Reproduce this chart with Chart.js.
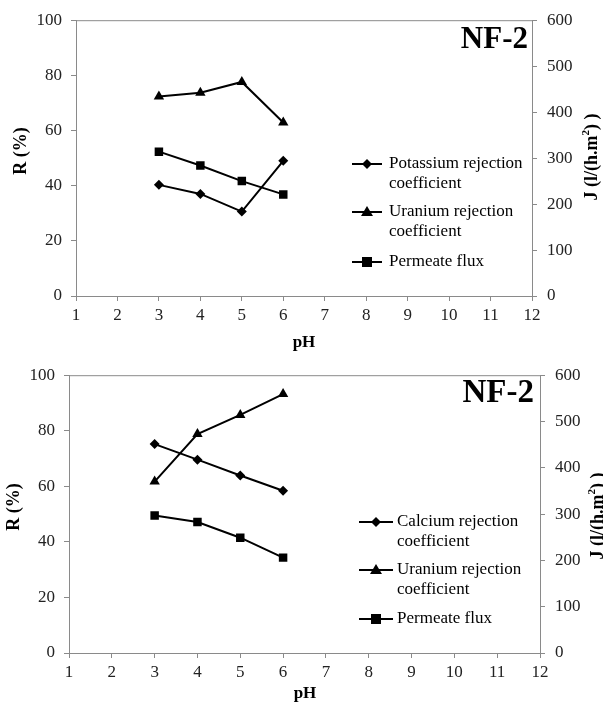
<!DOCTYPE html>
<html>
<head>
<meta charset="utf-8">
<script src="https://cdn.jsdelivr.net/npm/chart.js@4.4.1/dist/chart.umd.min.js"></script>
<style>
  body { margin:0; background:#fff; }
  canvas { display:block; }
</style>
</head>
<body>
<canvas id="topChart" width="603" height="355"></canvas>
<canvas id="bottomChart" width="603" height="355"></canvas>
<script>
// pH values measured
const phValues = [3, 4, 5, 6];

// top panel (potassium)
const potassiumRejection = [40.3, 37.0, 30.6, 49.0];
const uraniumRejectionTop = [72.3, 73.7, 77.6, 62.9];
const fluxTop = [314, 284, 250, 221];

// bottom panel (calcium)
const calciumRejection = [75.2, 69.6, 63.9, 58.4];
const uraniumRejectionBottom = [61.7, 78.8, 85.7, 93.2];
const fluxBottom = [297, 283, 249, 206];

// axes
const phRange = [1, 12];
const rRange = [0, 100];
const jRange = [0, 600];

const serif = "'Liberation Serif', 'Times New Roman', serif";
const axisGray = "#8a8a8a";

function pts(ys){
  return phValues.map((x,i)=>({x, y:ys[i]}));
}

function ds(label, ys, style, axis){
  return {
    label, data: pts(ys), yAxisID: axis,
    borderColor:"#000", backgroundColor:"#000", borderWidth:2,
    pointStyle:style, pointRadius: style==="rectRot" ? 5 : 6,
    pointBorderWidth:0, tension:0
  };
}

// draws frame top, titles, NF-2 label and the legend
const overlay = {
  id:"overlay",
  afterDraw(chart){
    const o = chart.options.plugins.overlay;
    const ctx = chart.ctx, a = chart.chartArea;
    ctx.save();
    // top border of the plot area
    ctx.strokeStyle = axisGray; ctx.lineWidth = 1;
    ctx.beginPath(); ctx.moveTo(a.left, a.top+0.5); ctx.lineTo(a.right, a.top+0.5); ctx.stroke();

    ctx.fillStyle = "#000";
    // NF-2
    ctx.font = "bold " + o.nfSize + "px " + serif;
    ctx.textAlign = "right"; ctx.textBaseline = "alphabetic";
    ctx.fillText("NF-2", o.nfX, o.nfY);

    // x title
    ctx.font = "bold 17px " + serif;
    ctx.textAlign = "center"; ctx.textBaseline = "middle";
    ctx.fillText("pH", o.phX, o.phY);

    // left title
    ctx.save();
    ctx.font = "bold 18px " + serif;
    ctx.translate(o.rX, o.rY); ctx.rotate(-Math.PI/2);
    ctx.fillText("R (%)", 0, 0);
    ctx.restore();

    // right title with superscript
    ctx.save();
    ctx.translate(o.jX, o.jY); ctx.rotate(-Math.PI/2);
    const big = "bold 18px " + serif, small = "bold 11px " + serif;
    const p1 = "J (l/(h.m", p2 = "2", p3 = ") )";
    ctx.font = big;
    const w1 = ctx.measureText(p1).width, w3 = ctx.measureText(p3).width;
    ctx.font = small;
    const w2 = ctx.measureText(p2).width;
    let x = -(w1+w2+w3)/2;
    ctx.textAlign = "left";
    ctx.font = big; ctx.fillText(p1, x, 0); x += w1;
    ctx.font = small; ctx.fillText(p2, x, -6); x += w2;
    ctx.font = big; ctx.fillText(p3, x, 0);
    ctx.restore();

    // legend
    ctx.font = "17px " + serif;
    ctx.textAlign = "left"; ctx.textBaseline = "middle";
    o.legend.forEach((item, i)=>{
      const y = o.legendY[i];
      ctx.strokeStyle = "#000"; ctx.lineWidth = 2;
      ctx.beginPath(); ctx.moveTo(o.lineX0, y); ctx.lineTo(o.lineX1, y); ctx.stroke();
      const cx = (o.lineX0+o.lineX1)/2;
      ctx.fillStyle = "#000";
      ctx.beginPath();
      if(item.style==="rectRot"){
        ctx.moveTo(cx, y-5); ctx.lineTo(cx+5, y); ctx.lineTo(cx, y+5); ctx.lineTo(cx-5, y);
      } else if(item.style==="triangle"){
        ctx.moveTo(cx, y-6); ctx.lineTo(cx+6, y+4); ctx.lineTo(cx-6, y+4);
      } else {
        ctx.rect(cx-5, y-5, 10, 10);
      }
      ctx.closePath(); ctx.fill();
      item.lines.forEach((t, j)=>ctx.fillText(t, o.textX, y + j*20));
    });
    ctx.restore();
  }
};

function makeChart(id, sets, geo, ov){
  new Chart(document.getElementById(id), {
    type:"line",
    data:{ datasets: sets },
    plugins:[overlay],
    options:{
      responsive:false, animation:false,
      layout:{ padding:{ top:geo.top, left:0, right:0, bottom:0 } },
      plugins:{ legend:{display:false}, tooltip:{enabled:false}, overlay: ov },
      scales:{
        x:{
          type:"linear", min:phRange[0], max:phRange[1],
          afterFit(s){ s.height = geo.xh; },
          ticks:{ stepSize:1, color:"#222", padding:4, font:{family:serif, size:17} },
          grid:{ drawOnChartArea:false, drawTicks:true, tickLength:5, color:axisGray },
          border:{ color:axisGray }
        },
        y:{
          position:"left", min:rRange[0], max:rRange[1],
          afterFit(s){ s.width = geo.left; },
          ticks:{ stepSize:20, color:"#222", padding:9, font:{family:serif, size:17} },
          grid:{ drawOnChartArea:false, drawTicks:true, tickLength:5, color:axisGray },
          border:{ color:axisGray }
        },
        y2:{
          position:"right", min:jRange[0], max:jRange[1],
          afterFit(s){ s.width = geo.right; },
          ticks:{ stepSize:100, color:"#222", padding:10, font:{family:serif, size:17} },
          grid:{ drawOnChartArea:false, drawTicks:true, tickLength:5, color:axisGray },
          border:{ color:axisGray }
        }
      }
    }
  });
}

makeChart("topChart", [
  ds("Potassium rejection coefficient", potassiumRejection, "rectRot", "y"),
  ds("Uranium rejection coefficient", uraniumRejectionTop, "triangle", "y"),
  ds("Permeate flux", fluxTop, "rect", "y2")
], {top:15, xh:59, left:76, right:71}, {
  nfSize:31, nfX:528, nfY:48, phX:304, phY:343, rX:21, rY:151, jX:592, jY:157,
  lineX0:352, lineX1:382, textX:389, legendY:[164, 212, 262],
  legend:[
    {style:"rectRot", lines:["Potassium rejection","coefficient"]},
    {style:"triangle", lines:["Uranium rejection","coefficient"]},
    {style:"rect", lines:["Permeate flux"]}
  ]
});

makeChart("bottomChart", [
  ds("Calcium rejection coefficient", calciumRejection, "rectRot", "y"),
  ds("Uranium rejection coefficient", uraniumRejectionBottom, "triangle", "y"),
  ds("Permeate flux", fluxBottom, "rect", "y2")
], {top:16, xh:57, left:69, right:63}, {
  nfSize:33, nfX:534, nfY:47, phX:305, phY:339, rX:14, rY:152, jX:598, jY:161,
  lineX0:359, lineX1:393, textX:397, legendY:[167, 215, 264],
  legend:[
    {style:"rectRot", lines:["Calcium rejection","coefficient"]},
    {style:"triangle", lines:["Uranium rejection","coefficient"]},
    {style:"rect", lines:["Permeate flux"]}
  ]
});
</script>
</body>
</html>
